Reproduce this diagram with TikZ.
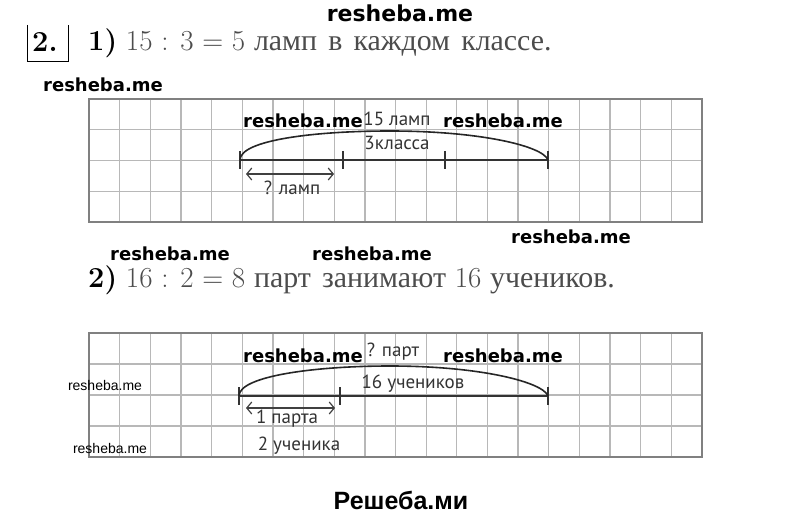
\documentclass[tikz,border=0pt]{standalone}
\usepackage{fontspec}
\usetikzlibrary{arrows.meta}
\newfontfamily\cyrfont[Scale=1.03, WordSpace=1.5]{Liberation Serif}
\newfontfamily\labelfont{PT Sans}
\newfontfamily\markfont{DejaVu Sans}
\newfontfamily\smallmarkfont{Liberation Sans}
\newfontfamily\footfont{Liberation Sans}
\tikzset{
  gridline/.style={draw=black!28, line width=1.3pt},
  gridframe/.style={draw=black!50, line width=1.6pt},
  segline/.style={draw=black!80, line width=2.6pt},
  tickline/.style={draw=black!80, line width=2.6pt},
  arcline/.style={draw=black!85, line width=1.6pt},
  sizearrow/.style={draw=black!75, line width=1.2pt,
    {Straight Barb[length=5pt,width=12pt]}-{Straight Barb[length=5pt,width=12pt]}},
  gridlabel/.style={font=\labelfont\fontsize{19}{19}\selectfont, text=black!80, inner sep=0pt},
  watermark/.style={font=\markfont\bfseries\fontsize{18}{18}\selectfont, inner sep=0pt},
  smallmark/.style={font=\smallmarkfont\fontsize{14}{14}\selectfont, inner sep=0pt},
  taskline/.style={font=\fontsize{29}{29}\selectfont, text=black!70, inner sep=0pt, anchor=base west}
}
\begin{document}
\begin{tikzpicture}[x=1pt, y=-1pt]
\useasboundingbox (0,0) rectangle (800,518);
% headings
\node[watermark, font=\markfont\bfseries\fontsize{22}{22}\selectfont] (wmtop) at (400,13) {resheba.me};
\draw[line width=1pt] (27,25) -- (27,62) -- (68,62) -- (68,25);
\node[taskline, text=black] (num) at (32,52) {\bfseries 2.};
\node[taskline] (task1) at (88,51) {{\color{black}\bfseries 1)} 15 : 3 = 5 {\cyrfont ламп в каждом классе.}};
\node[watermark] (wmleft) at (103,85) {resheba.me};
% first grid
\foreach \i in {1,...,19} \draw[gridline] ({89+30.65*\i},99) -- ({89+30.65*\i},222);
\foreach \j in {1,2,3} \draw[gridline] (89,{99+30.75*\j}) -- (702,{99+30.75*\j});
\draw[gridframe] (89,99) rectangle (702,222);
\coordinate (a0) at (240,160);
\coordinate (a1) at (343,160);
\coordinate (a2) at (445,160);
\coordinate (a3) at (548,160);
\coordinate (atop) at (390,131);
\draw[segline] (a0) -- (a3);
\foreach \p in {a0,a1,a2,a3} \draw[tickline] ([yshift=9pt]\p) -- ([yshift=-9pt]\p);
\draw[arcline] (a0) .. controls +(0,-20) and +(-75,0) .. (atop) .. controls +(90,0) and +(-5,-14) .. (a3);
\coordinate (p0) at (246,174);
\coordinate (p1) at (334,174);
\draw[sizearrow] (p0) -- (p1);
\node[gridlabel] (qlamp) at (292,188) {? ламп};
\node[gridlabel] (alllamp) at (397,119) {15 ламп};
\node[gridlabel] (classes) at (397,143) {3класса};
\node[watermark] (wma) at (303,121) {resheba.me};
\node[watermark] (wmb) at (503,121) {resheba.me};
% between
\node[watermark] (wmc) at (170,254) {resheba.me};
\node[watermark] (wmd) at (372,254) {resheba.me};
\node[watermark] (wme) at (571,237) {resheba.me};
\node[taskline] (task2) at (88,288) {{\color{black}\bfseries 2)} 16 : 2 = 8 {\cyrfont парт занимают} 16 {\cyrfont учеников.}};
% second grid
\foreach \i in {1,...,19} \draw[gridline] ({89+30.65*\i},333) -- ({89+30.65*\i},457);
\foreach \j in {1,2,3} \draw[gridline] (89,{333+31*\j}) -- (702,{333+31*\j});
\draw[gridframe] (89,333) rectangle (702,457);
\coordinate (b0) at (239,396);
\coordinate (b1) at (340,396);
\coordinate (b2) at (548,396);
\coordinate (btop) at (390,366);
\draw[segline] (b0) -- (b2);
\foreach \p in {b0,b1,b2} \draw[tickline] ([yshift=9pt]\p) -- ([yshift=-9pt]\p);
\draw[arcline] (b0) .. controls +(0,-20) and +(-75,0) .. (btop) .. controls +(90,0) and +(-5,-14) .. (b2);
\coordinate (r0) at (246,408);
\coordinate (r1) at (335,408);
\draw[sizearrow] (r0) -- (r1);
\node[gridlabel] (onedesk) at (287,419) {1 парта};
\node[gridlabel] (twopupils) at (299,446) {2 ученика};
\node[gridlabel] (qdesk) at (393,352) {? парт};
\node[gridlabel] (pupils) at (413,384) {16 учеников};
\node[watermark] (wmf) at (303,356) {resheba.me};
\node[watermark] (wmg) at (503,356) {resheba.me};
\node[smallmark] (wmh) at (105,385) {resheba.me};
\node[smallmark] (wmi) at (110,448) {resheba.me};
% footer
\node[font=\footfont\bfseries\fontsize{25}{25}\selectfont, inner sep=0pt] (foot) at (401,500) {Решеба.ми};
\end{tikzpicture}
\end{document}
